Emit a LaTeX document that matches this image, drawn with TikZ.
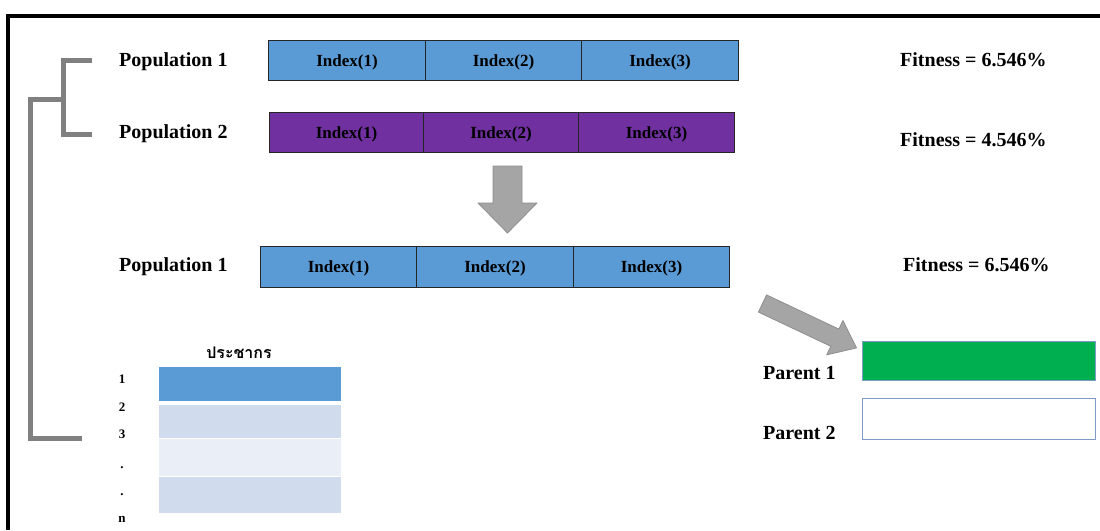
\documentclass[tikz,border=0pt]{standalone}
\usepackage{fontspec}
\setmainfont{Liberation Serif}
\newfontfamily\thaifont[Script=Thai]{Loma}
\definecolor{cellblue}{HTML}{5B9BD5}
\definecolor{cellpurple}{HTML}{7030A0}
\definecolor{parentgreen}{HTML}{00B050}
\definecolor{parentedge}{HTML}{7F9CC6}
\definecolor{rowlight}{HTML}{D0DBEE}
\definecolor{rowpale}{HTML}{E9EEF7}
\definecolor{bracketgray}{HTML}{808080}
\definecolor{arrowfill}{HTML}{A5A5A5}
\definecolor{arrowedge}{HTML}{8E8E8E}
\begin{document}
\begin{tikzpicture}[x=1pt,y=-1pt,
  cellbox/.style={draw=black!85, line width=1pt, inner sep=0pt, anchor=north west,
    text height=11pt, text depth=0pt,
    font=\bfseries\fontsize{17}{17}\selectfont},
  lbl/.style={font=\bfseries\fontsize{20}{20}\selectfont, inner sep=0pt, anchor=base west},
  rowlbl/.style={font=\bfseries\fontsize{13}{13}\selectfont, inner sep=0pt, anchor=base},
  tablerow/.style={draw=white, line width=1pt, inner sep=0pt, anchor=north west,
    minimum width=183pt},
  bracket/.style={draw=bracketgray, line width=5pt},
  bigarrow/.style={fill=arrowfill, draw=arrowedge, line width=0.8pt, line join=round},
  parentbox/.style={draw=parentedge, line width=1.3pt, inner sep=0pt, anchor=north west,
    minimum width=233pt, minimum height=40pt}]
\useasboundingbox (0,0) rectangle (1100,530);

% outer frame (top and left edges)
\draw[line width=4pt] (8,530) -- (8,16) -- (1100,16);

% grouping bracket
\coordinate (bA) at (92,60);
\coordinate (bB) at (92,134);
\coordinate (bJ) at (63,99);
\coordinate (bC) at (82,438);
\draw[bracket] (bA) -| (63,134) -- (bB);
\draw[bracket] (bJ) -- (30,99) |- (bC);

% population rows
\node[lbl] (pop1) at (119,66) {Population 1};
\node[lbl] (pop2) at (119,138) {Population 2};
\node[lbl] (pop3) at (119,271) {Population 1};

\node[cellbox, fill=cellblue, minimum width=157pt, minimum height=40pt] (r1a) at (268,40) {Index(1)};
\node[cellbox, fill=cellblue, minimum width=156pt, minimum height=40pt] (r1b) at (425,40) {Index(2)};
\node[cellbox, fill=cellblue, minimum width=157pt, minimum height=40pt] (r1c) at (581,40) {Index(3)};

\node[cellbox, fill=cellpurple, minimum width=154pt, minimum height=40pt] (r2a) at (269,112) {Index(1)};
\node[cellbox, fill=cellpurple, minimum width=155pt, minimum height=40pt] (r2b) at (423,112) {Index(2)};
\node[cellbox, fill=cellpurple, minimum width=156pt, minimum height=40pt] (r2c) at (578,112) {Index(3)};

\node[cellbox, fill=cellblue, minimum width=156pt, minimum height=41pt] (r3a) at (260,246) {Index(1)};
\node[cellbox, fill=cellblue, minimum width=157pt, minimum height=41pt] (r3b) at (416,246) {Index(2)};
\node[cellbox, fill=cellblue, minimum width=156pt, minimum height=41pt] (r3c) at (573,246) {Index(3)};

% fitness values
\node[lbl] (fit1) at (900,66) {Fitness = 6.546\%};
\node[lbl] (fit2) at (900,146) {Fitness = 4.546\%};
\node[lbl] (fit3) at (903,271) {Fitness = 6.546\%};

% block arrow pointing down
\draw[bigarrow] (493,166) -- (522,166) -- (522,203) -- (537,203) -- (507.5,233)
  -- (478,203) -- (493,203) -- cycle;

% block arrow pointing to the parents
\begin{scope}[shift={(762.5,303.5)}, rotate=-25.3]
  \draw[bigarrow] (0,-9.5) -- (80,-9.5) -- (80,-19) -- (104,0) -- (80,19)
    -- (80,9.5) -- (0,9.5) -- cycle;
\end{scope}

% parents
\node[parentbox, fill=parentgreen, minimum height=39pt] (par1) at (862,341) {};
\node[parentbox, fill=white, minimum height=41pt] (par2) at (862,398) {};
\node[lbl] (plbl1) at (763,379) {Parent 1};
\node[lbl] (plbl2) at (763,439) {Parent 2};

% population table
\node[font=\thaifont\bfseries\fontsize{16}{16}\selectfont, inner sep=0pt, anchor=base]
  (thead) at (239,358) {ประชากร};
\node[tablerow, fill=cellblue, minimum height=35pt] (t1) at (158,366) {};
\node[tablerow, fill=rowlight, minimum height=34pt] (t2) at (158,404) {};
\node[tablerow, fill=rowpale, minimum height=38pt] (t3) at (158,438) {};
\node[tablerow, fill=rowlight, minimum height=37pt] (t4) at (158,476) {};

\node[rowlbl] (n1) at (122,383) {1};
\node[rowlbl] (n2) at (122,411) {2};
\node[rowlbl] (n3) at (122,438) {3};
\node[rowlbl] (n4) at (122,468) {.};
\node[rowlbl] (n5) at (122,495) {.};
\node[rowlbl] (n6) at (122,522) {n};
\end{tikzpicture}
\end{document}
